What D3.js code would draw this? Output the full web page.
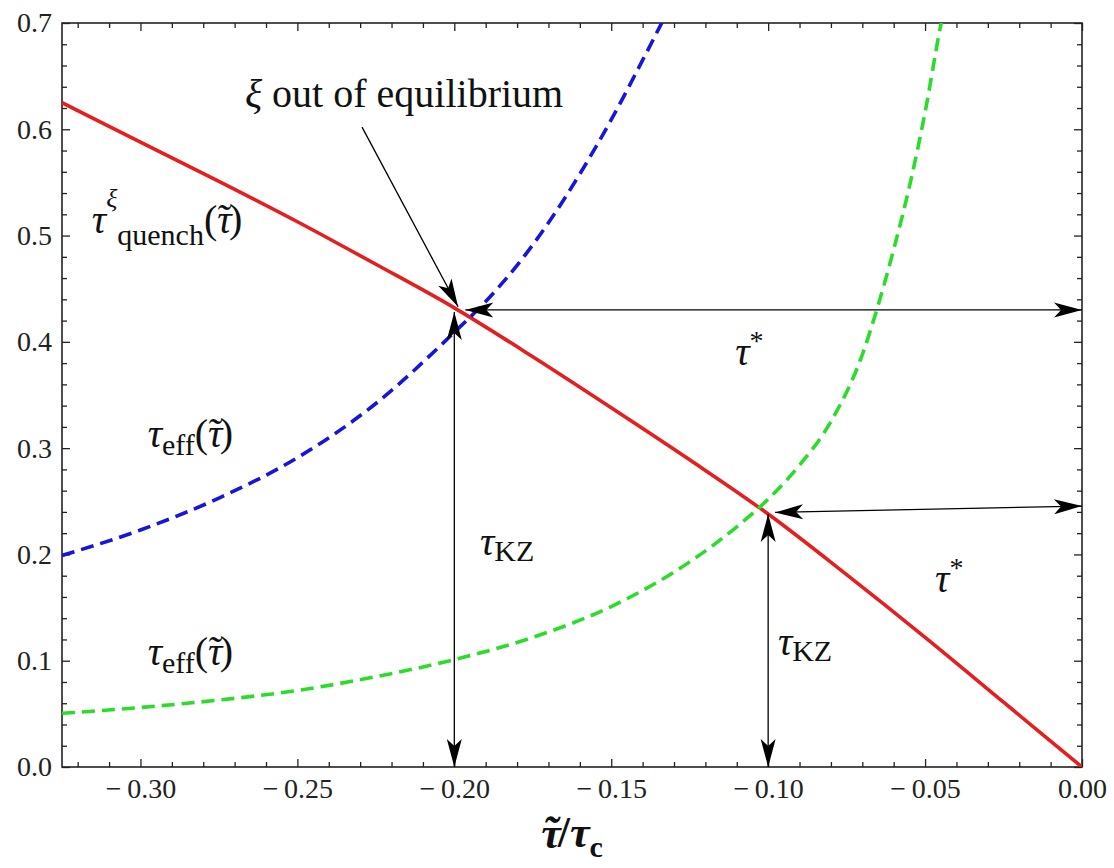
<!DOCTYPE html>
<html>
<head>
<meta charset="utf-8">
<script src="https://cdn.jsdelivr.net/npm/d3@7"></script>
<style>
  body { margin: 0; background: #fff; }
  text { font-family: "Liberation Serif", "Times New Roman", serif; }
</style>
</head>
<body>
<svg id="chart" width="1114" height="868"></svg>
<script>
// curves
const quenchX = [-0.325, -0.3, -0.275, -0.25, -0.225, -0.2, -0.175, -0.15, -0.125, -0.1, -0.075, -0.05, -0.025, 0];
const quenchY = [0.625, 0.588, 0.551, 0.513, 0.473, 0.432, 0.386, 0.338, 0.289, 0.238, 0.181, 0.122, 0.061, 0];

const effBlueX = [-0.325, -0.3, -0.275, -0.25, -0.225, -0.2, -0.19, -0.18, -0.17, -0.16, -0.15, -0.14, -0.1334];
const effBlueY = [0.199, 0.223, 0.253, 0.291, 0.342, 0.409, 0.438, 0.472, 0.512, 0.558, 0.609, 0.665, 0.703];

const effGreenX = [-0.325, -0.3, -0.275, -0.25, -0.225, -0.2, -0.175, -0.15, -0.125, -0.11, -0.1, -0.09, -0.08,
                   -0.07, -0.065, -0.06, -0.055, -0.05, -0.045, -0.044];
const effGreenY = [0.0505, 0.056, 0.063, 0.072, 0.085, 0.101, 0.122, 0.151, 0.193, 0.226, 0.252, 0.284, 0.325,
                   0.388, 0.434, 0.487, 0.546, 0.616, 0.698, 0.712];

// ticks
const xMajor = [-0.30, -0.25, -0.20, -0.15, -0.10, -0.05, 0];
const xLabels = ['\u2212\u20090.30', '\u2212\u20090.25', '\u2212\u20090.20', '\u2212\u20090.15', '\u2212\u20090.10', '\u2212\u20090.05', '0.00'];
const xMinor = [-0.32, -0.31, -0.29, -0.28, -0.27, -0.26, -0.24, -0.23, -0.22, -0.21, -0.19, -0.18, -0.17, -0.16,
                -0.14, -0.13, -0.12, -0.11, -0.09, -0.08, -0.07, -0.06, -0.04, -0.03, -0.02, -0.01];
const yMajor = [0, 0.1, 0.2, 0.3, 0.4, 0.5, 0.6, 0.7];
const yLabels = ['0.0', '0.1', '0.2', '0.3', '0.4', '0.5', '0.6', '0.7'];
const yMinor = [0.02, 0.04, 0.06, 0.08, 0.12, 0.14, 0.16, 0.18, 0.22, 0.24, 0.26, 0.28, 0.32, 0.34, 0.36, 0.38,
                0.42, 0.44, 0.46, 0.48, 0.52, 0.54, 0.56, 0.58, 0.62, 0.64, 0.66, 0.68];

// annotation arrows (data units)
const kzArrowX = [-0.2, -0.1];
const kzArrowTop = [0.428, 0.238];
const starArrowFrom = [[-0.1965, 0.43], [-0.0978, 0.2395]];
const starArrowTo = [[0, 0.43], [0, 0.2455]];
const xiArrow = [[-0.2294, 0.602], [-0.1988, 0.433]];

const width = 1114, height = 868;
const margin = { top: 23, right: 32, bottom: 101, left: 62 };
const svg = d3.select('#chart');

const x = d3.scaleLinear().domain([-0.325, 0]).range([margin.left, width - margin.right]);
const y = d3.scaleLinear().domain([0, 0.7]).range([height - margin.bottom, margin.top]);

svg.append('defs').append('clipPath').attr('id', 'plot')
  .append('rect')
  .attr('x', margin.left).attr('y', margin.top)
  .attr('width', width - margin.left - margin.right)
  .attr('height', height - margin.top - margin.bottom);

// axes, ticks inside on all four sides
function addAxis(axis, tx, ty, fontSize) {
  const g = svg.append('g').attr('transform', `translate(${tx},${ty})`).call(axis);
  g.select('.domain').remove();
  g.attr('font-size', fontSize);
  g.selectAll('line').attr('stroke', '#222').attr('stroke-width', 1.3);
  g.selectAll('text').attr('fill', '#222');
  return g;
}
const bottom = height - margin.bottom, right = width - margin.right;
addAxis(d3.axisBottom(x).tickValues(xMajor).tickFormat((d, i) => xLabels[i]).tickSizeInner(-8).tickSizeOuter(0).tickPadding(11), 0, bottom, 28);
addAxis(d3.axisBottom(x).tickValues(xMinor).tickFormat('').tickSizeInner(-5).tickSizeOuter(0), 0, bottom, 28);
addAxis(d3.axisTop(x).tickValues(xMajor).tickFormat('').tickSizeInner(-8).tickSizeOuter(0), 0, margin.top, 28);
addAxis(d3.axisTop(x).tickValues(xMinor).tickFormat('').tickSizeInner(-5).tickSizeOuter(0), 0, margin.top, 28);
addAxis(d3.axisLeft(y).tickValues(yMajor).tickFormat((d, i) => yLabels[i]).tickSizeInner(-8).tickSizeOuter(0).tickPadding(10), margin.left, 0, 28);
addAxis(d3.axisLeft(y).tickValues(yMinor).tickFormat('').tickSizeInner(-5).tickSizeOuter(0), margin.left, 0, 28);
addAxis(d3.axisRight(y).tickValues(yMajor).tickFormat('').tickSizeInner(-8).tickSizeOuter(0), right, 0, 28);
addAxis(d3.axisRight(y).tickValues(yMinor).tickFormat('').tickSizeInner(-5).tickSizeOuter(0), right, 0, 28);

svg.append('rect')
  .attr('x', margin.left).attr('y', margin.top)
  .attr('width', right - margin.left).attr('height', bottom - margin.top)
  .attr('fill', 'none').attr('stroke', '#222').attr('stroke-width', 1.6);

// curves
const line = d3.line().x(d => x(d[0])).y(d => y(d[1])).curve(d3.curveMonotoneX);
const curves = svg.append('g').attr('clip-path', 'url(#plot)');
curves.append('path').datum(d3.zip(quenchX, quenchY))
  .attr('d', line).attr('fill', 'none').attr('stroke', '#e51f1f').attr('stroke-width', 3.6);
curves.append('path').datum(d3.zip(effBlueX, effBlueY))
  .attr('d', line).attr('fill', 'none').attr('stroke', '#1515dc').attr('stroke-width', 3.6)
  .attr('stroke-dasharray', '13,7');
curves.append('path').datum(d3.zip(effGreenX, effGreenY))
  .attr('d', line).attr('fill', 'none').attr('stroke', '#2bdc2b').attr('stroke-width', 3.6)
  .attr('stroke-dasharray', '13,7');

// arrows
const arrows = svg.append('g');
function head(tip, from) {
  const ang = Math.atan2(tip[1] - from[1], tip[0] - from[0]) * 180 / Math.PI;
  arrows.append('path')
    .attr('d', 'M0,0 L-28,-7.5 L-21,0 L-28,7.5 Z')
    .attr('transform', `translate(${tip[0]},${tip[1]}) rotate(${ang})`)
    .attr('fill', '#000');
}
function arrow(a, b, both) {
  const p = [x(a[0]), y(a[1])], q = [x(b[0]), y(b[1])];
  arrows.append('line')
    .attr('x1', p[0]).attr('y1', p[1]).attr('x2', q[0]).attr('y2', q[1])
    .attr('stroke', '#000').attr('stroke-width', 1.3);
  head(q, p);
  if (both) head(p, q);
}
kzArrowX.forEach((kx, i) => arrow([kx, 0], [kx, kzArrowTop[i]], true));
starArrowFrom.forEach((f, i) => arrow(f, starArrowTo[i], true));
arrow(xiArrow[0], xiArrow[1], false);

// labels; a part with tilde:true gets a tilde laid over it
function addParts(t, parts) {
  parts.forEach(p => {
    const s = t.append('tspan')
      .attr('font-size', p.size)
      .attr('dy', p.dy || 0)
      .attr('font-style', p.it ? 'italic' : 'normal')
      .text(p.t);
    if (p.dx) s.attr('dx', p.dx);
    if (p.tilde) {
      t.append('tspan').attr('font-size', p.size).attr('font-style', 'italic')
        .attr('dx', '-0.40em').attr('dy', '-0.03em').text('\u02DC');
      t.append('tspan').attr('font-size', p.size).attr('dx', '0.07em').attr('dy', '0.03em').text('');
    }
  });
}
function label(px, py, parts) {
  const t = svg.append('text').attr('x', x(px)).attr('y', y(py)).attr('fill', '#111');
  addParts(t, parts);
}
const F = 40, S = 30;
label(-0.2667, 0.6207, [{ t: '\u03BE', size: F, it: true }, { t: ' out of equilibrium', size: F }]);
label(-0.3155, 0.502, [
  { t: '\u03C4', size: F, it: true }, { t: '\u03BE', size: 26, it: true, dy: -26 },
  { t: 'quench', size: S, dy: 38 }, { t: '(', size: F, dy: -12 },
  { t: '\u03C4', size: F, it: true, tilde: true }, { t: ')', size: F }]);
label(-0.2977, 0.301, [
  { t: '\u03C4', size: F, it: true }, { t: 'eff', size: S, dy: 8 },
  { t: '(', size: F, dy: -8 }, { t: '\u03C4', size: F, it: true, tilde: true }, { t: ')', size: F }]);
label(-0.2977, 0.096, [
  { t: '\u03C4', size: F, it: true }, { t: 'eff', size: S, dy: 8 },
  { t: '(', size: F, dy: -8 }, { t: '\u03C4', size: F, it: true, tilde: true }, { t: ')', size: F }]);
label(-0.1918, 0.1994, [{ t: '\u03C4', size: F, it: true }, { t: 'KZ', size: S, dy: 6 }]);
label(-0.0969, 0.1053, [{ t: '\u03C4', size: F, it: true }, { t: 'KZ', size: S, dy: 6 }]);
label(-0.1105, 0.378, [{ t: '\u03C4', size: F, it: true }, { t: '*', size: 28, dy: -15 }]);
label(-0.0468, 0.1646, [{ t: '\u03C4', size: F, it: true }, { t: '*', size: 28, dy: -15 }]);

// x axis title
svg.append('text')
  .attr('x', (margin.left + right) / 2).attr('y', bottom + 81)
  .attr('text-anchor', 'middle').attr('font-weight', 'bold').attr('fill', '#111')
  .call(t => addParts(t, [
    { t: '\u03C4', size: 44, it: true, tilde: true },
    { t: '/', size: 44 },
    { t: '\u03C4', size: 44, it: true },
    { t: 'c', size: 30, dy: 10 }]));
</script>
</body>
</html>
